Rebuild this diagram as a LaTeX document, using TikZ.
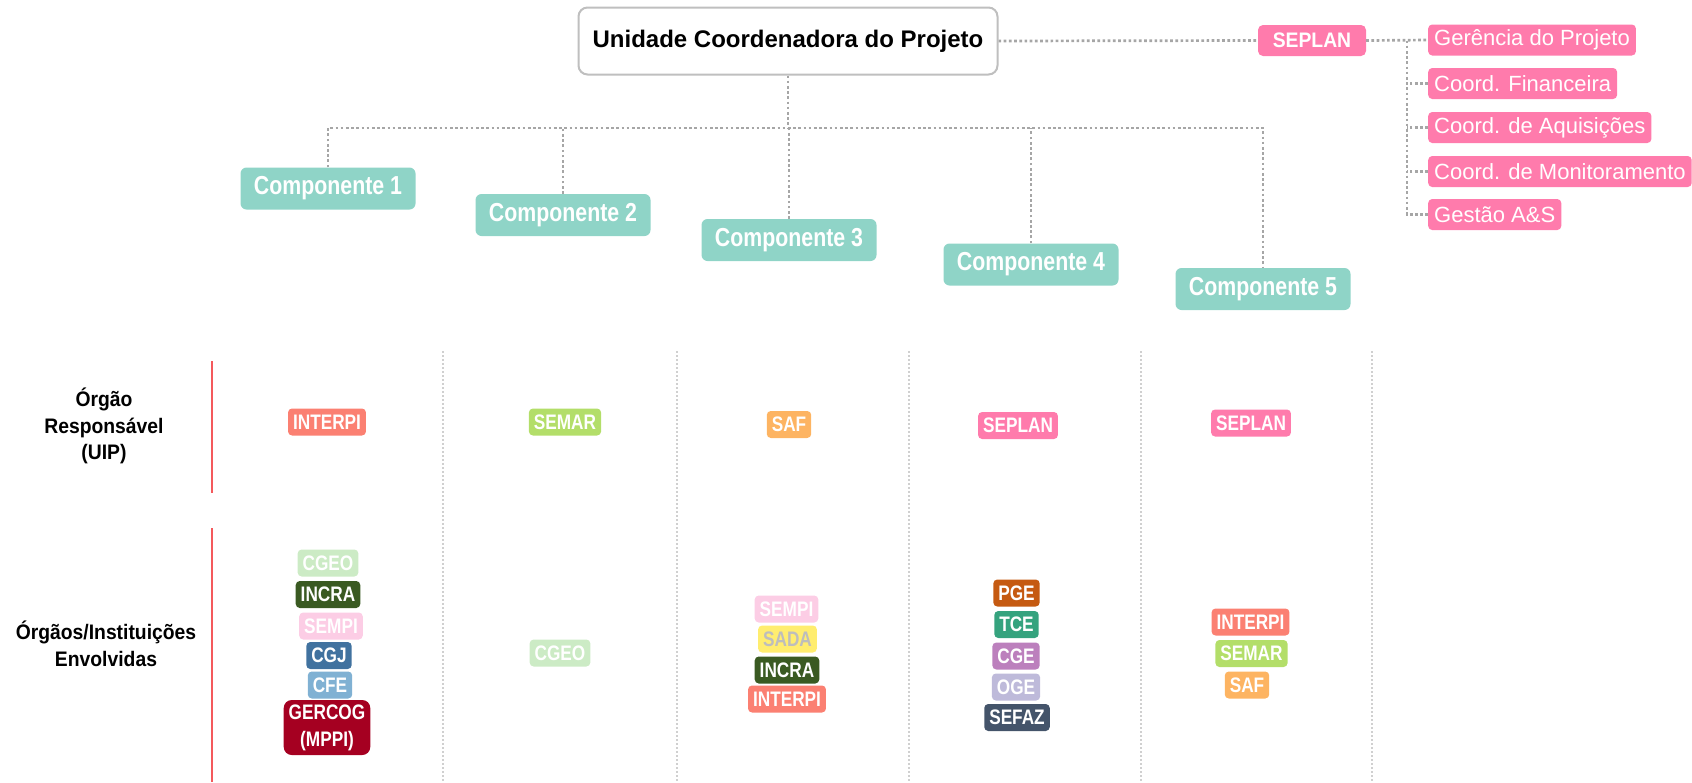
\documentclass[tikz,border=0pt]{standalone}
\usepackage{fontspec}
\setmainfont{Liberation Sans}
\newfontfamily\narrowfont{Liberation Sans}[FakeStretch=0.82]
\newfontfamily\semifont{Liberation Sans}[FakeStretch=0.92]
\definecolor{connGray}{HTML}{A6A6A6}
\definecolor{sepGray}{HTML}{D0D0D0}
\definecolor{ucpGray}{HTML}{BFBFBF}
\definecolor{redLine}{HTML}{F4595C}
\definecolor{compTeal}{HTML}{8FD4C7}
\definecolor{pinkC}{HTML}{FF7BAC}
\definecolor{cInterpi}{HTML}{FB8072}
\definecolor{cSemar}{HTML}{B3DE69}
\definecolor{cSaf}{HTML}{FDB462}
\definecolor{cCgeo}{HTML}{CCEBC5}
\definecolor{cIncra}{HTML}{3A5A22}
\definecolor{cSempi}{HTML}{FCCDE5}
\definecolor{cCgj}{HTML}{41729F}
\definecolor{cCfe}{HTML}{80B1D3}
\definecolor{cGercog}{HTML}{A50021}
\definecolor{cSada}{HTML}{FFED6F}
\definecolor{cSadaText}{HTML}{BDBDBD}
\definecolor{cPge}{HTML}{C55A11}
\definecolor{cTce}{HTML}{35A37E}
\definecolor{cCge}{HTML}{BC80BD}
\definecolor{cOge}{HTML}{BEBADA}
\definecolor{cSefaz}{HTML}{44546A}
\tikzset{
  conn/.style={draw=connGray, line width=2.7pt, dash pattern=on 2.7pt off 2.5pt},
  colsep/.style={draw=sepGray, line width=1.5pt, dash pattern=on 2pt off 2pt},
  redsep/.style={draw=redLine, line width=1.6pt},
  ucpbox/.style={draw=ucpGray, line width=2pt, rounded corners=9pt, fill=white,
    minimum width=419pt, minimum height=67pt, inner sep=0pt,
    font=\bfseries\fontsize{24}{28}\selectfont},
  comp/.style={fill=compTeal, text=white, rounded corners=6pt, minimum width=175pt,
    minimum height=42pt, inner sep=0pt, font=\narrowfont\bfseries\fontsize{26}{30}\selectfont},
  seplantop/.style={fill=pinkC, text=white, rounded corners=5pt, minimum width=108pt,
    minimum height=31pt, inner sep=0pt, font=\semifont\bfseries\fontsize{21}{25}\selectfont},
  pinkitem/.style={fill=pinkC, text=white, rounded corners=4pt, minimum height=31pt,
    inner xsep=6pt, inner ysep=0pt, anchor=west, font=\fontsize{22}{26}\selectfont},
  tag/.style={rounded corners=4pt, text=white, minimum height=27pt, inner xsep=5pt,
    inner ysep=0pt, font=\narrowfont\bfseries\fontsize{21}{24}\selectfont},
  rowlabel/.style={align=center, inner sep=0pt, font=\semifont\bfseries\fontsize{21}{26.5}\selectfont}
}
\begin{document}
\begin{tikzpicture}[x=1pt,y=-1pt]
\useasboundingbox (0,0) rectangle (1692,782);

% column separators
\foreach \xx in {443,677,909,1141,1372}{
  \draw[colsep] (\xx,351) -- (\xx,782);
}
\draw[redsep] (212,361) -- (212,493);
\draw[redsep] (212,528) -- (212,782);

% top
\node[ucpbox] (ucp) at (788,41) {Unidade Coordenadora do Projeto};
\node[seplantop] (seplan) at (1312,40.5) {SEPLAN};
\node[pinkitem] (g1) at (1428,40) {Gerência do Projeto};
\node[pinkitem] (g2) at (1428,83.5) {Coord. Financeira};
\node[pinkitem] (g3) at (1428,127.5) {Coord. de Aquisições};
\node[pinkitem] (g4) at (1428,171.5) {Coord. de Monitoramento};
\node[pinkitem] (g5) at (1428,214.5) {Gestão A\&S};

\node[comp] (c1) at (328,188.5) {Componente 1};
\node[comp] (c2) at (563,215) {Componente 2};
\node[comp] (c3) at (789,240) {Componente 3};
\node[comp] (c4) at (1031,264.5) {Componente 4};
\node[comp] (c5) at (1263,289) {Componente 5};

\coordinate (bus) at (788,128);
\coordinate (trunk) at (1407,40.5);

\draw[conn] (ucp.south) -- (bus);
\draw[conn] (c1.north) |- (bus) -| (c5.north);
\draw[conn] (c2.north) -- (c2.north |- bus);
\draw[conn] (c3.north) -- (c3.north |- bus);
\draw[conn] (c4.north) -- (c4.north |- bus);

\draw[conn] (ucp.east) -- (seplan.west);
\draw[conn] (seplan.east) -- (g1.west);
\draw[conn] (trunk) |- (g5.west);
\draw[conn] (g2.west) -- (g2.west -| trunk);
\draw[conn] (g3.west) -- (g3.west -| trunk);
\draw[conn] (g4.west) -- (g4.west -| trunk);

% row labels
\node[rowlabel] (lab1) at (104,426) {Órgão\\Responsável\\(UIP)};
\node[rowlabel] (lab2) at (106,644) {Órgãos/Instituições\\Envolvidas};

% row 1
\node[tag, fill=cInterpi] (r1) at (327,422) {INTERPI};
\node[tag, fill=cSemar] (r2) at (565,422) {SEMAR};
\node[tag, fill=cSaf] (r3) at (789,424.5) {SAF};
\node[tag, fill=pinkC] (r4) at (1018,425.5) {SEPLAN};
\node[tag, fill=pinkC] (r5) at (1251,423) {SEPLAN};

% row 2, column 1
\node[tag, fill=cCgeo] (a1) at (328,563) {CGEO};
\node[tag, fill=cIncra] (a2) at (328,594.5) {INCRA};
\node[tag, fill=cSempi] (a3) at (331,626) {SEMPI};
\node[tag, fill=cCgj] (a4) at (329,655.5) {CGJ};
\node[tag, fill=cCfe] (a5) at (330,685) {CFE};
\node[tag, fill=cGercog, align=center, minimum height=55pt, rounded corners=8pt,
  font=\narrowfont\bfseries\fontsize{21}{27}\selectfont] (a6) at (327,727.5) {GERCOG\\(MPPI)};

% column 2
\node[tag, fill=cCgeo] (b1) at (560,653) {CGEO};

% column 3
\node[tag, fill=cSempi] (d1) at (786.5,609) {SEMPI};
\node[tag, fill=cSada, text=cSadaText] (d2) at (787.5,639) {SADA};
\node[tag, fill=cIncra] (d3) at (787,670) {INCRA};
\node[tag, fill=cInterpi] (d4) at (787,699) {INTERPI};

% column 4
\node[tag, fill=cPge] (e1) at (1016.5,593) {PGE};
\node[tag, fill=cTce] (e2) at (1016.5,624.5) {TCE};
\node[tag, fill=cCge] (e3) at (1016,656) {CGE};
\node[tag, fill=cOge] (e4) at (1016,687) {OGE};
\node[tag, fill=cSefaz] (e5) at (1017,717.5) {SEFAZ};

% column 5
\node[tag, fill=cInterpi] (f1) at (1250.5,622) {INTERPI};
\node[tag, fill=cSemar] (f2) at (1251.5,653.5) {SEMAR};
\node[tag, fill=cSaf] (f3) at (1247,685) {SAF};
\end{tikzpicture}
\end{document}
